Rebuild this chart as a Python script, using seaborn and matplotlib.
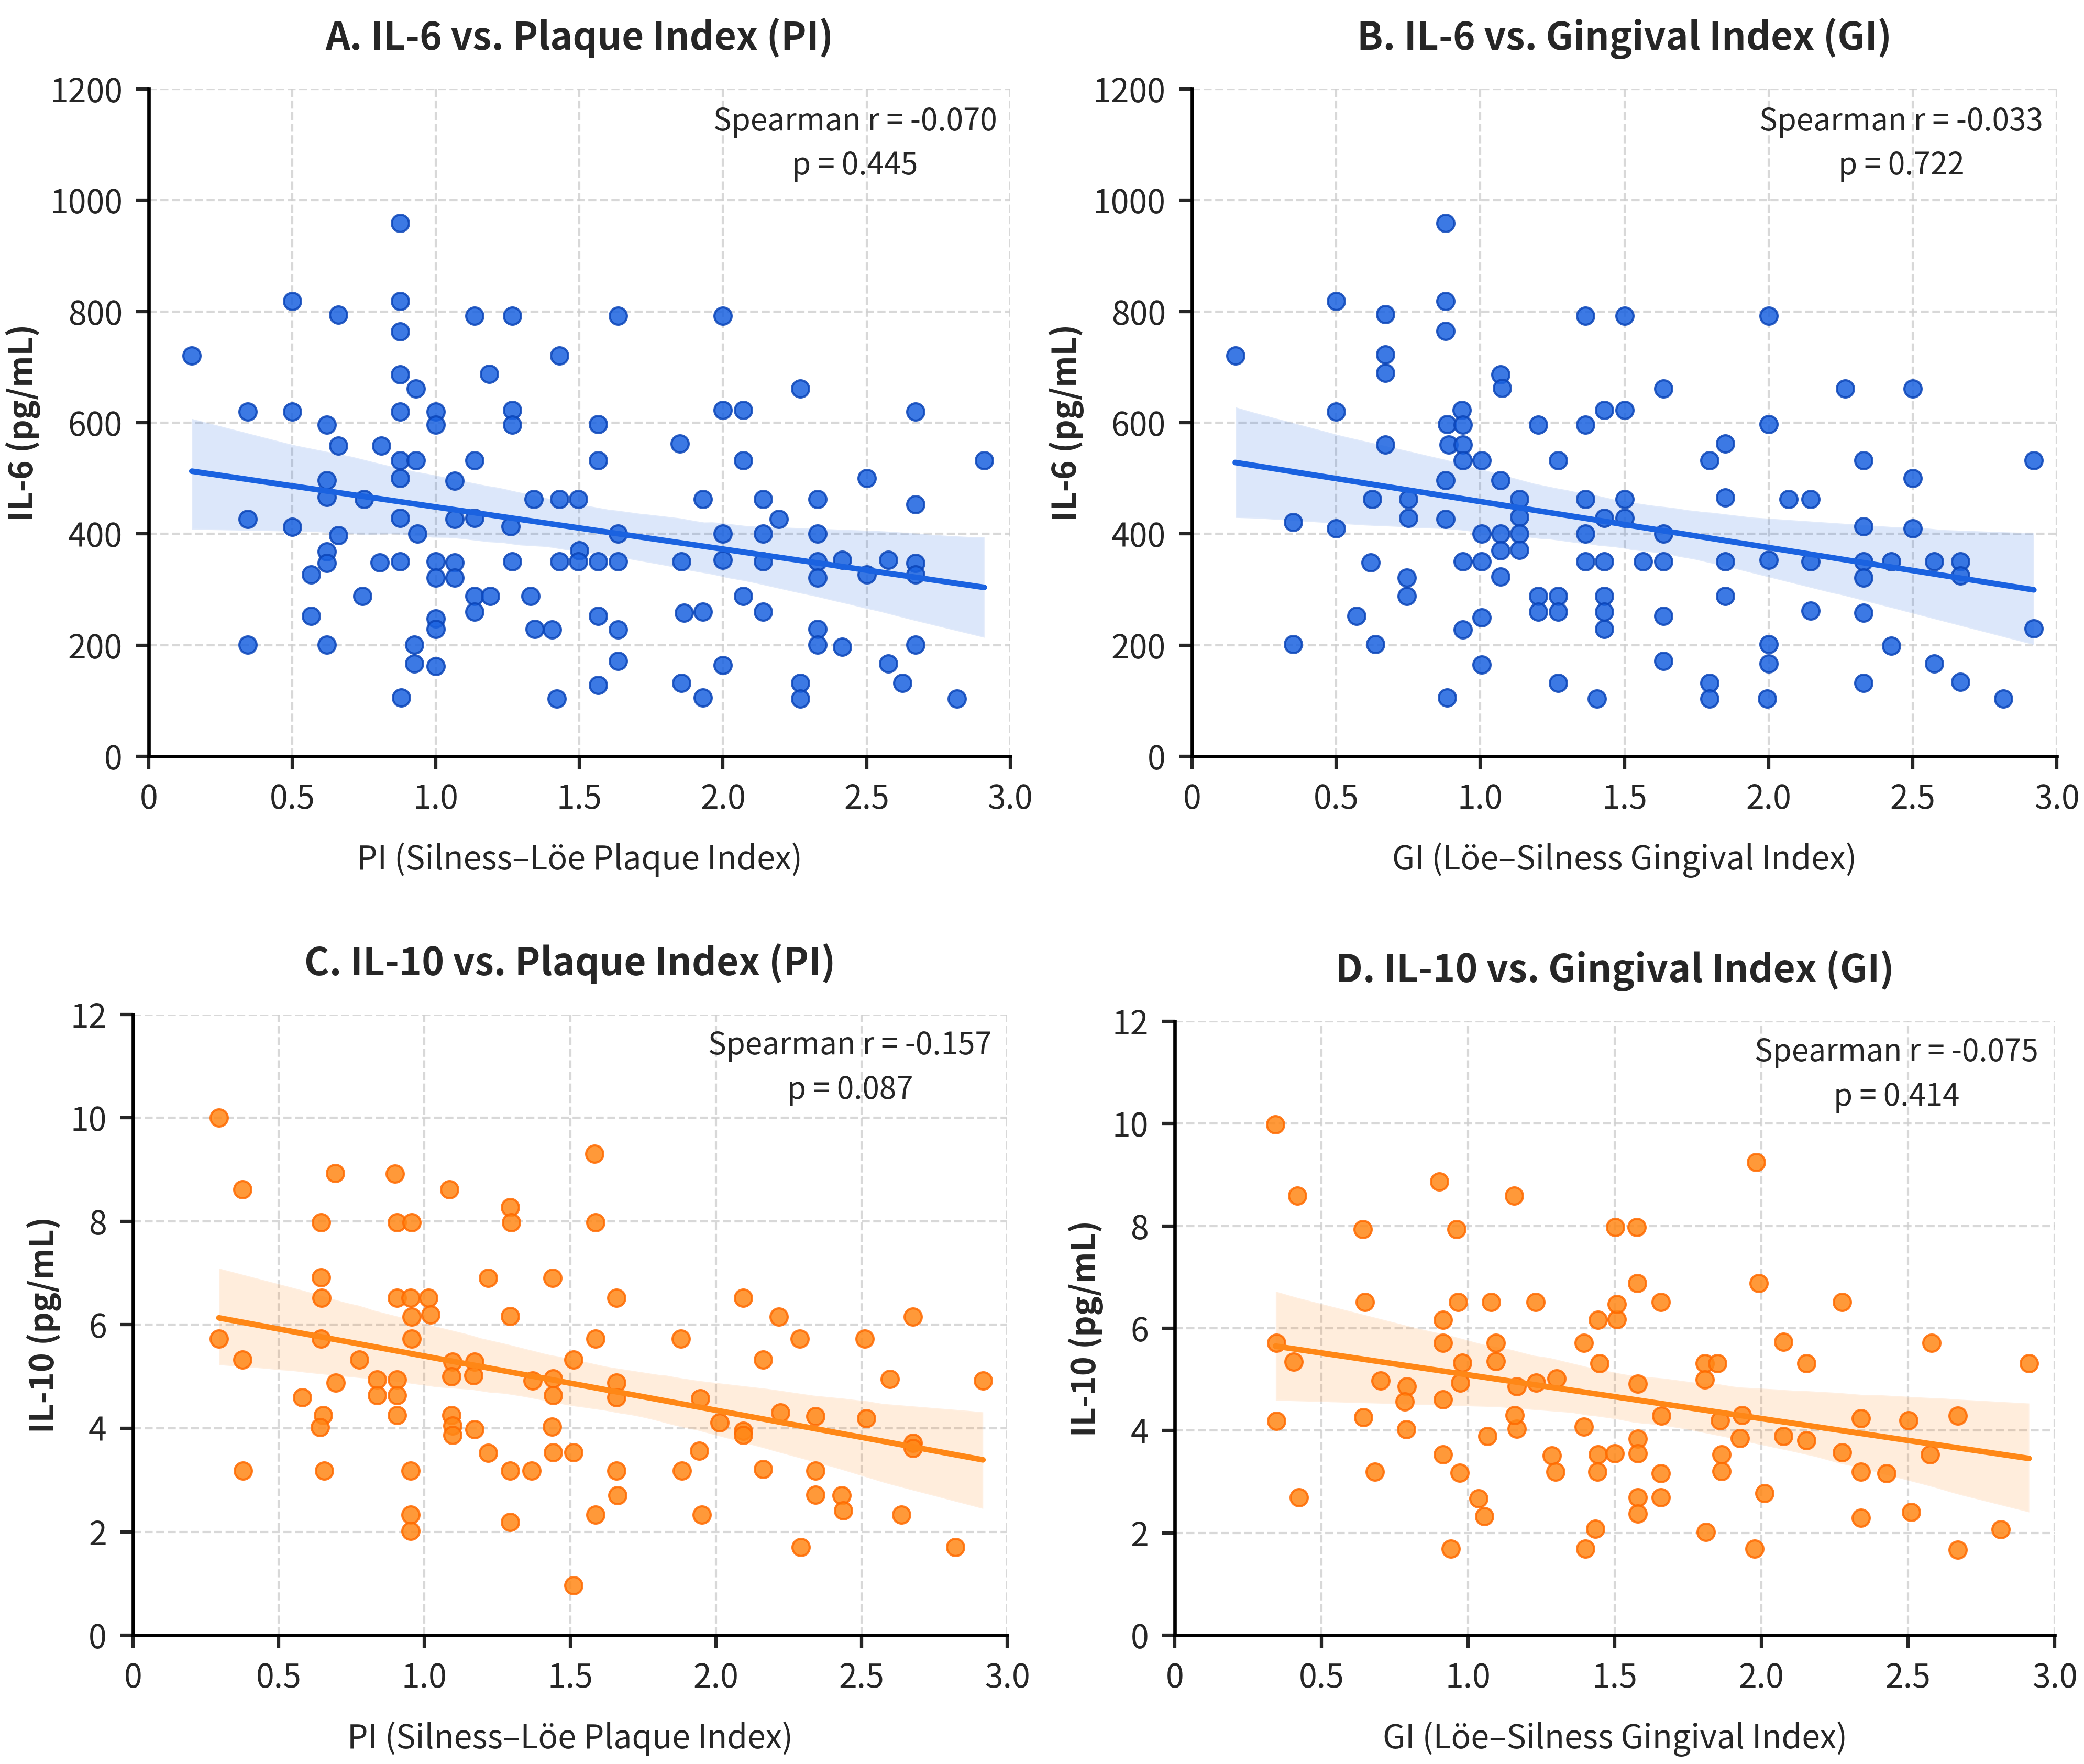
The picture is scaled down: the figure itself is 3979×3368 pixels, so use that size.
import numpy as np
import pandas as pd
import matplotlib
matplotlib.use("Agg")
import matplotlib.pyplot as plt
import seaborn as sns

# Panel A: IL-6 vs PI
pi_a = [0.15, 0.345, 0.345, 0.345, 0.50, 0.50, 0.50, 0.66, 0.62, 0.66, 0.62, 0.62, 0.66, 0.62, 0.62,
        0.565, 0.565, 0.62, 0.745, 0.75, 0.81, 0.805, 0.875, 0.875, 0.875, 0.875, 0.93, 0.875, 0.875,
        0.93, 0.875, 0.875, 0.935, 0.875, 0.88, 0.925, 0.925, 1.0, 1.0, 1.0, 1.0, 1.0, 1.0, 1.0,
        1.065, 1.065, 1.065, 1.065, 1.135, 1.135, 1.135, 1.135, 1.135, 1.19, 1.185, 1.265, 1.265,
        1.265, 1.26, 1.265, 1.34, 1.33, 1.345, 1.405, 1.43, 1.43, 1.43, 1.42, 1.495, 1.50, 1.495,
        1.565, 1.565, 1.565, 1.565, 1.565, 1.635, 1.635, 1.635, 1.635, 1.635, 1.85, 1.855, 1.865,
        1.855, 1.93, 1.93, 1.93, 2.0, 2.0, 2.0, 2.0, 2.0, 2.07, 2.07, 2.07, 2.14, 2.14, 2.14, 2.14,
        2.195, 2.27, 2.27, 2.27, 2.33, 2.33, 2.33, 2.33, 2.33, 2.33, 2.415, 2.415, 2.50, 2.50,
        2.575, 2.575, 2.625, 2.67, 2.67, 2.67, 2.67, 2.67, 2.815, 2.91]
il6_a = [721, 620, 427, 201, 819, 620, 413, 794, 596, 559, 497, 466, 398, 368, 348,
         327, 253, 201, 288, 463, 559, 349, 959, 819, 764, 687, 661, 620, 532,
         532, 500, 429, 400, 351, 106, 201, 167, 620, 596, 351, 321, 248, 229, 162,
         496, 427, 349, 321, 792, 532, 429, 288, 260, 288, 688, 792, 623,
         596, 414, 351, 463, 288, 229, 228, 721, 463, 351, 104, 463, 370, 351,
         597, 532, 351, 253, 128, 792, 400, 351, 228, 172, 562, 351, 258,
         132, 463, 260, 106, 792, 623, 400, 353, 164, 623, 532, 288, 463, 400, 351, 260,
         427, 661, 132, 104, 463, 400, 351, 321, 229, 201, 197, 353, 500, 327,
         167, 353, 132, 620, 453, 348, 327, 201, 104, 532]

# Panel B: IL-6 vs GI
gi_b = [0.15, 0.35, 0.35, 0.50, 0.50, 0.50, 0.57, 0.67, 0.67, 0.67, 0.67, 0.625, 0.62, 0.635,
        0.75, 0.75, 0.745, 0.745, 0.88, 0.88, 0.88, 0.935, 0.885, 0.94, 0.89, 0.94, 0.94, 0.88,
        0.88, 0.94, 0.94, 0.885, 1.005, 1.005, 1.005, 1.005, 1.005, 1.07, 1.075, 1.07, 1.07,
        1.07, 1.07, 1.135, 1.135, 1.135, 1.135, 1.20, 1.20, 1.20, 1.27, 1.27, 1.27, 1.27,
        1.365, 1.365, 1.365, 1.365, 1.365, 1.405, 1.43, 1.43, 1.43, 1.43, 1.43, 1.43, 1.50,
        1.50, 1.50, 1.50, 1.565, 1.635, 1.635, 1.635, 1.635, 1.635, 1.795, 1.795, 1.795, 1.85,
        1.85, 1.85, 1.85, 2.0, 2.0, 2.0, 2.0, 2.0, 1.995, 2.07, 2.145, 2.145, 2.145, 2.265,
        2.33, 2.33, 2.33, 2.33, 2.33, 2.33, 2.425, 2.425, 2.50, 2.50, 2.50, 2.575, 2.575,
        2.665, 2.665, 2.665, 2.815, 2.92, 2.92]
il6_b = [721, 421, 202, 819, 620, 410, 253, 795, 723, 690, 561, 463, 349, 202,
         463, 429, 321, 288, 959, 819, 765, 623, 597, 596, 561, 561, 532, 497,
         427, 351, 228, 106, 532, 400, 351, 250, 165, 687, 662, 497, 400,
         370, 323, 463, 431, 400, 371, 596, 288, 260, 532, 288, 260, 132,
         792, 596, 463, 400, 351, 104, 623, 429, 351, 288, 260, 229, 792,
         623, 463, 429, 351, 661, 400, 351, 253, 172, 532, 132, 104, 562,
         465, 351, 288, 792, 597, 353, 202, 167, 104, 463, 463, 351, 262, 661,
         532, 414, 351, 321, 258, 132, 351, 199, 661, 500, 410, 351, 167,
         351, 325, 134, 104, 532, 230]

# Panel C: IL-10 vs PI
pi_c = [0.295, 0.375, 0.295, 0.375, 0.378, 0.693, 0.646, 0.646, 0.648, 0.646, 0.652, 0.642, 0.656,
        0.581, 0.695, 0.777, 0.838, 0.838, 0.898, 0.906, 0.957, 0.906, 0.953, 0.957, 0.957, 0.906,
        0.906, 0.906, 0.953, 0.953, 0.953, 1.014, 1.02, 1.086, 1.096, 1.092, 1.092, 1.096, 1.096,
        1.172, 1.168, 1.172, 1.219, 1.219, 1.294, 1.297, 1.294, 1.294, 1.294, 1.368, 1.372, 1.44,
        1.442, 1.442, 1.438, 1.442, 1.511, 1.511, 1.511, 1.583, 1.587, 1.587, 1.587, 1.659, 1.659,
        1.659, 1.659, 1.663, 1.879, 1.883, 1.943, 1.947, 1.951, 2.012, 2.094, 2.094, 2.094, 2.162,
        2.162, 2.215, 2.221, 2.288, 2.292, 2.342, 2.342, 2.342, 2.432, 2.436, 2.511, 2.515, 2.597,
        2.636, 2.675, 2.675, 2.675, 2.822, 2.916]
il10_c = [10.0, 8.62, 5.73, 5.33, 3.18, 8.93, 7.98, 6.91, 6.52, 5.73, 4.25, 4.02, 3.18,
          4.6, 4.88, 5.33, 4.94, 4.64, 8.92, 7.98, 7.98, 6.52, 6.52, 6.16, 5.73, 4.94,
          4.64, 4.25, 3.18, 2.33, 2.02, 6.52, 6.2, 8.62, 5.29, 5.0, 4.25, 4.05, 3.87,
          5.29, 5.02, 3.98, 6.9, 3.52, 8.27, 7.98, 6.17, 3.18, 2.19, 3.18, 4.92, 6.9,
          4.96, 4.64, 4.03, 3.53, 5.33, 3.53, 0.96, 9.3, 7.98, 5.73, 2.33, 6.52, 4.88,
          4.6, 3.18, 2.7, 5.73, 3.18, 3.56, 4.58, 2.33, 4.11, 6.52, 3.95, 3.87, 5.33,
          3.21, 6.16, 4.3, 5.73, 1.7, 4.23, 3.18, 2.71, 2.7, 2.41, 5.73, 4.19, 4.95,
          2.33, 6.16, 3.72, 3.61, 1.7, 4.92]

# Panel D: IL-10 vs GI
gi_d = [0.343, 0.418, 0.345, 0.404, 0.345, 0.422, 0.641, 0.647, 0.643, 0.682, 0.702, 0.79, 0.784,
        0.788, 0.902, 0.961, 0.965, 0.914, 0.914, 0.98, 0.973, 0.914, 0.914, 0.971, 0.941, 1.078,
        1.094, 1.094, 1.065, 1.035, 1.055, 1.157, 1.165, 1.165, 1.159, 1.229, 1.231, 1.302, 1.286,
        1.298, 1.394, 1.394, 1.40, 1.443, 1.447, 1.443, 1.441, 1.433, 1.502, 1.575, 1.506, 1.506,
        1.50, 1.576, 1.578, 1.578, 1.578, 1.578, 1.578, 1.657, 1.659, 1.657, 1.657, 1.806, 1.849,
        1.806, 1.859, 1.863, 1.863, 1.81, 1.933, 1.927, 1.982, 1.99, 1.976, 2.01, 2.075, 2.075,
        2.153, 2.153, 2.275, 2.275, 2.339, 2.339, 2.339, 2.427, 2.502, 2.51, 2.58, 2.575, 2.669,
        2.669, 2.816, 2.912]
il10_d = [9.98, 8.59, 5.71, 5.35, 4.19, 2.69, 7.94, 6.51, 4.26, 3.2, 4.98, 4.86, 4.57,
          4.02, 8.87, 7.94, 6.51, 6.16, 5.71, 5.33, 4.94, 4.61, 3.53, 3.18, 1.69, 6.51,
          5.71, 5.36, 3.89, 2.67, 2.33, 8.59, 4.86, 4.04, 4.3, 6.51, 4.94, 5.02, 3.51,
          3.2, 5.71, 4.08, 1.69, 6.16, 5.32, 3.53, 3.2, 2.08, 7.98, 7.98, 6.18, 6.47,
          3.55, 6.88, 4.92, 3.84, 3.55, 2.69, 2.38, 6.51, 4.29, 3.17, 2.69, 5.32, 5.32,
          5.0, 4.2, 3.53, 3.21, 2.02, 4.3, 3.85, 9.25, 6.88, 1.69, 2.78, 5.73, 3.89,
          5.31, 3.81, 6.51, 3.57, 4.24, 3.2, 2.29, 3.16, 4.2, 2.41, 5.71, 3.53, 4.29,
          1.67, 2.07, 5.32]

titles = ["A. IL-6 vs. Plaque Index (PI)", "B. IL-6 vs. Gingival Index (GI)",
          "C. IL-10 vs. Plaque Index (PI)", "D. IL-10 vs. Gingival Index (GI)"]
xlabels = ["PI (Silness\u2013Löe Plaque Index)", "GI (Löe\u2013Silness Gingival Index)",
           "PI (Silness\u2013Löe Plaque Index)", "GI (Löe\u2013Silness Gingival Index)"]
ylabels = ["IL-6 (pg/mL)", "IL-6 (pg/mL)", "IL-10 (pg/mL)", "IL-10 (pg/mL)"]
stats_text = ["Spearman r = -0.070\np = 0.445", "Spearman r = -0.033\np = 0.722",
              "Spearman r = -0.157\np = 0.087", "Spearman r = -0.075\np = 0.414"]
x_ticks = [0, 0.5, 1.0, 1.5, 2.0, 2.5, 3.0]
x_ticklabels = ["0", "0.5", "1.0", "1.5", "2.0", "2.5", "3.0"]
il6_ticks = [0, 200, 400, 600, 800, 1000, 1200]
il10_ticks = [0, 2, 4, 6, 8, 10, 12]

sns.set_style("ticks")
plt.rcParams["font.family"] = ["Noto Sans CJK SC", "DejaVu Sans"]

blue, blue_edge = "#1a62e0", "#0b45b8"
orange, orange_edge = "#ff8716", "#ff6a00"

panels = [
    (pi_a, il6_a, blue, blue_edge, il6_ticks, [0.0714, 0.5712, 0.4133, 0.3783]),
    (gi_b, il6_b, blue, blue_edge, il6_ticks, [0.5720, 0.5712, 0.4150, 0.3783]),
    (pi_c, il10_c, orange, orange_edge, il10_ticks, [0.0638, 0.0730, 0.4196, 0.3520]),
    (gi_d, il10_d, orange, orange_edge, il10_ticks, [0.5638, 0.0730, 0.4222, 0.3480]),
]

fig = plt.figure(figsize=(3979 / 300, 3368 / 300), dpi=300)

for i, (xs, ys, col, edge, yt, rect) in enumerate(panels):
    ax = fig.add_axes(rect)
    df = pd.DataFrame({"x": xs, "y": ys})
    sns.regplot(data=df, x="x", y="y", ax=ax, color=col, seed=0, ci=99, truncate=True,
                scatter_kws=dict(s=62, alpha=0.85, edgecolor=edge, linewidths=1.0, zorder=3),
                line_kws=dict(lw=2.6, zorder=4))
    ax.set_xlim(0, 3.0)
    ax.set_ylim(yt[0], yt[-1])
    ax.set_xticks(x_ticks)
    ax.set_xticklabels(x_ticklabels)
    ax.set_yticks(yt)
    ax.grid(True, linestyle="--", color="#cfcfcf", linewidth=1.0, alpha=0.8)
    ax.set_axisbelow(True)
    sns.despine(ax=ax)
    for s in ["left", "bottom"]:
        ax.spines[s].set_linewidth(1.6)
        ax.spines[s].set_color("black")
    ax.tick_params(axis="both", labelsize=15, length=6, width=1.5, pad=6)
    ax.set_title(titles[i], fontsize=17.5, fontweight="bold", pad=18)
    ax.set_xlabel(xlabels[i], fontsize=15, labelpad=12)
    ax.set_ylabel(ylabels[i], fontsize=15, fontweight="bold", labelpad=4)
    ax.text(0.82, 0.975, stats_text[i], transform=ax.transAxes, ha="center", va="top",
            fontsize=14, linespacing=1.5)

fig.savefig("out.png", dpi=300)
